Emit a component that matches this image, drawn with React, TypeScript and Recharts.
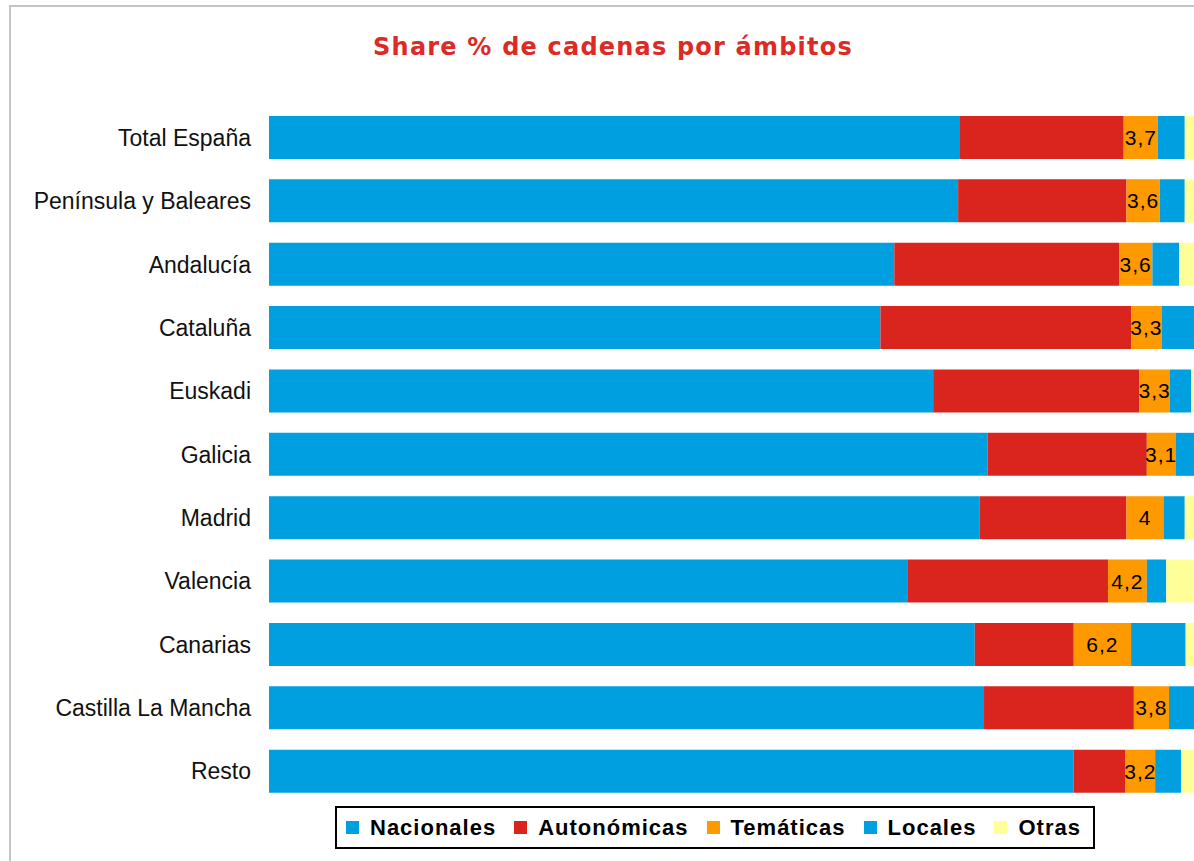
import React from 'react';
import { BarChart, Bar, XAxis, YAxis, LabelList } from 'recharts';

const categories = ['Total España', 'Península y Baleares', 'Andalucía', 'Cataluña', 'Euskadi', 'Galicia', 'Madrid', 'Valencia', 'Canarias', 'Castilla La Mancha', 'Resto'];
const nacionales = [74.7, 74.5, 67.6, 66.1, 71.8, 77.7, 76.8, 69.0, 76.3, 77.3, 87.0];
const autonomicas = [17.7, 18.2, 24.3, 27.1, 22.3, 17.2, 15.9, 21.7, 10.7, 16.2, 5.6];
const tematicas = [3.7, 3.6, 3.6, 3.3, 3.3, 3.1, 4.0, 4.2, 6.2, 3.8, 3.2];
const locales = [2.9, 2.7, 2.9, 3.5, 2.3, 2.0, 2.3, 2.1, 5.9, 2.7, 2.8];
const otras = [1.0, 1.0, 1.6, 0.0, 0.3, 0.0, 1.0, 3.0, 0.9, 0.0, 1.4];

const series = [
  { key: 'nacionales', name: 'Nacionales', color: '#009fe0' },
  { key: 'autonomicas', name: 'Autonómicas', color: '#da251e' },
  { key: 'tematicas', name: 'Temáticas', color: '#ff9900' },
  { key: 'locales', name: 'Locales', color: '#009fe0' },
  { key: 'otras', name: 'Otras', color: '#ffff99' },
];

const data = categories.map((cat, i) => ({
  cat,
  nacionales: nacionales[i],
  autonomicas: autonomicas[i],
  tematicas: tematicas[i],
  locales: locales[i],
  otras: otras[i],
}));

const fmt = (v: any) => String(v).replace('.', ',');

export default function App() {
  return (
    <div style={{ position: 'absolute', left: 0, top: 0, width: 1194, height: 861, overflow: 'hidden', background: '#fff' }}>
      <div style={{ position: 'absolute', left: 9, top: 5, width: 1220, height: 900, border: '2px solid #c4c4c4' }} />
      <div
        style={{
          position: 'absolute', left: 0, top: 33, width: 1226, textAlign: 'center',
          fontFamily: '"DejaVu Sans", sans-serif', fontWeight: 'bold', fontSize: 24,
          letterSpacing: 1.2, color: '#dc2a25',
        }}
      >
        Share % de cadenas por ámbitos
      </div>
      <div style={{ position: 'absolute', left: 0, top: 0 }}>
        <BarChart
          width={1194}
          height={861}
          data={data}
          layout="vertical"
          margin={{ top: 106, right: 0, bottom: 58, left: 0 }}
        >
          <XAxis type="number" domain={[0, 100]} allowDataOverflow hide />
          <YAxis
            type="category"
            dataKey="cat"
            width={269}
            axisLine={false}
            tickLine={false}
            tickSize={0}
            tickMargin={18}
            interval={0}
            tick={{ fill: '#111', fontSize: 23, fontFamily: '"Liberation Sans", Arial, sans-serif' }}
          />
          {series.map((s) => (
            <Bar key={s.key} dataKey={s.key} stackId="a" fill={s.color} barSize={43} isAnimationActive={false}>
              {s.key === 'tematicas' && (
                <LabelList
                  dataKey="tematicas"
                  position="center"
                  formatter={fmt}
                  fill="#000"
                  fontSize={21}
                  letterSpacing={1}
                  fontFamily='"Liberation Sans", Arial, sans-serif'
                />
              )}
            </Bar>
          ))}
        </BarChart>
      </div>
      <div
        style={{
          position: 'absolute', left: 335, top: 806, width: 747, height: 39,
          border: '2px solid #000', display: 'flex', alignItems: 'center',
          paddingLeft: 9, boxSizing: 'content-box',
          fontFamily: '"Liberation Sans", Arial, sans-serif', fontWeight: 'bold', fontSize: 22, letterSpacing: 1,
        }}
      >
        {series.map((s) => (
          <div key={s.key} style={{ display: 'flex', alignItems: 'center', marginRight: 18 }}>
            <span style={{ display: 'inline-block', width: 13, height: 13, background: s.color, marginRight: 11 }} />
            <span>{s.name}</span>
          </div>
        ))}
      </div>
    </div>
  );
}
